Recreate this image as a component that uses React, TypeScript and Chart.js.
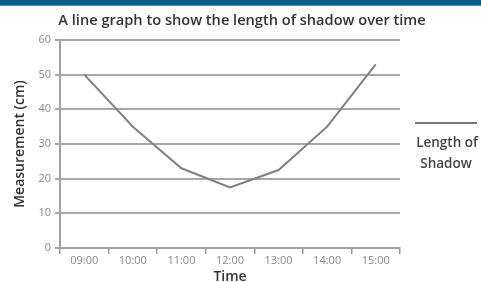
import React, { useEffect, useRef } from "react";
import { Chart, registerables } from "chart.js";

Chart.register(...registerables);

const times = ["09:00", "10:00", "11:00", "12:00", "13:00", "14:00", "15:00"];
const shadowLength = [50, 35, 23, 17.5, 22.5, 35, 53];
const seriesName = ["Length of", "Shadow"];
const chartTitle = "A line graph to show the length of shadow over time";
const yTitle = "Measurement (cm)";
const xTitle = "Time";

const FONT = "'Open Sans', 'DejaVu Sans', sans-serif";

const overlayPlugin = {
  id: "overlay",
  afterDraw(chart: any) {
    const ctx = chart.ctx;
    ctx.save();
    ctx.fillStyle = "#333";
    ctx.font = `600 14.6px ${FONT}`;
    ctx.textAlign = "center";
    ctx.textBaseline = "middle";
    ctx.fillText(chartTitle, 242, 21);
    ctx.strokeStyle = "#777";
    ctx.lineWidth = 2;
    ctx.beginPath();
    ctx.moveTo(415, 123);
    ctx.lineTo(477, 123);
    ctx.stroke();
    ctx.fillStyle = "#444";
    ctx.font = `600 13.5px ${FONT}`;
    ctx.fillText(seriesName[0], 447, 143);
    ctx.fillText(seriesName[1], 446, 164);
    ctx.restore();
  },
};

export default function App() {
  const ref = useRef<HTMLCanvasElement | null>(null);
  useEffect(() => {
    const canvas = ref.current!;
    const chart = new Chart(canvas, {
      type: "line",
      data: {
        labels: times,
        datasets: [
          {
            label: seriesName.join(" "),
            data: shadowLength,
            borderColor: "#808080",
            borderWidth: 2,
            pointRadius: 0,
            tension: 0,
            fill: false,
          },
        ],
      },
      options: {
        responsive: false,
        animation: false,
        layout: { padding: { top: 40, right: 81, left: 0, bottom: 0 } },
        plugins: {
          legend: { display: false },
          title: { display: false },
          tooltip: { enabled: false },
        },
        scales: {
          x: {
            offset: true,
            afterFit(scale: any) {
              scale.height = 34;
            },
            grid: {
              offset: true,
              drawOnChartArea: false,
              drawTicks: true,
              tickLength: 6,
              color: "#999",
              lineWidth: 1.5,
            },
            border: { color: "#a0a0a0", width: 2 },
            ticks: {
              color: "#888",
              font: { family: FONT, size: 11 },
              padding: 0,
              maxRotation: 0,
            },
            title: {
              display: true,
              text: xTitle,
              color: "#333",
              font: { family: FONT, size: 14, weight: "600" },
              padding: { top: 0, bottom: -3 },
            },
          },
          y: {
            min: 0,
            max: 60,
            afterFit(scale: any) {
              scale.width = 60;
            },
            ticks: {
              stepSize: 10,
              color: "#888",
              font: { family: FONT, size: 11 },
              padding: 4,
            },
            grid: {
              color: "#a8a8a8",
              lineWidth: 2,
              tickLength: 5,
            },
            border: { color: "#a0a0a0", width: 2 },
            title: {
              display: true,
              text: yTitle,
              color: "#333",
              font: { family: FONT, size: 14, weight: "600" },
              padding: { top: 12, bottom: 0 },
            },
          },
        },
      },
      plugins: [overlayPlugin],
    });
    return () => chart.destroy();
  }, []);
  return (
    <div style={{ position: "fixed", left: 0, top: 0, width: 481, height: 282, background: "#fff" }}>
      <canvas ref={ref} width={481} height={282} style={{ position: "absolute", left: 0, top: 0 }} />
      <div style={{ position: "absolute", left: 0, top: 0, width: 481, height: 5, background: "#0b5a88", borderBottom: "1px solid #4a8fbf" }} />
    </div>
  );
}
